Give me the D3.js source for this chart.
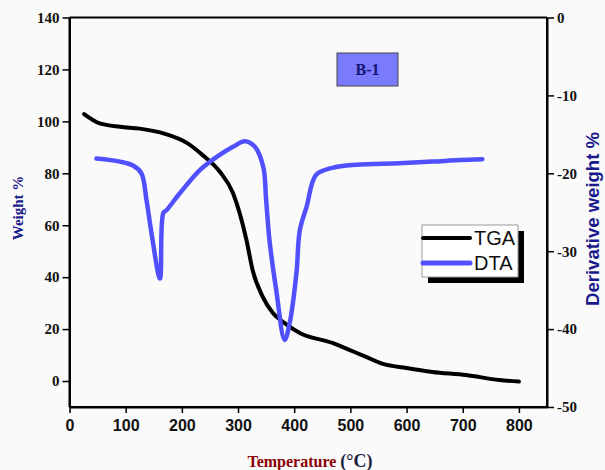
<!DOCTYPE html>
<html><head><meta charset="utf-8">
<script src="https://cdn.jsdelivr.net/npm/d3@7"></script>
<style>html,body{margin:0;padding:0;background:#fafafa;}svg{display:block;}</style>
</head><body>
<script>
// ---- data ----
const tgaTemp   = [26, 54, 90, 125, 170, 209, 237, 268, 291, 315, 326, 344, 362, 383, 410, 469, 498, 528, 555, 600, 646, 706, 765, 800];
const tgaWeight = [102.8, 99.2, 97.9, 97.2, 95.2, 91.7, 87, 80.5, 72.4, 54.3, 42.7, 32.4, 26.2, 22.3, 18.5, 14.6, 12, 9.3, 6.8, 5, 3.5, 2.3, 0.4, -0.2];
const dtaTemp   = [48, 90, 113, 128, 137, 146, 161, 167, 173, 196, 232, 262, 291, 312, 330, 345, 350, 356, 368, 383, 392, 404, 410, 422, 439, 468, 510, 587, 646, 694, 735];
const dtaValue  = [-18.1, -18.5, -19.0, -20, -23.4, -27.7, -33.5, -25.1, -24.7, -22.6, -19.6, -17.9, -16.6, -15.9, -16.6, -19.2, -23.4, -28.6, -35, -41.4, -39.2, -32.8, -27.3, -24.3, -20.2, -19.3, -18.9, -18.7, -18.5, -18.3, -18.2];
const xTicks = [0, 100, 200, 300, 400, 500, 600, 700, 800];
const leftTicks = [0, 20, 40, 60, 80, 100, 120, 140];
const rightTicks = [0, -10, -20, -30, -40, -50];
const seriesNames = ["TGA", "DTA"];

const W = 605, H = 470;
const L = 69.5, R = 547, T = 17.5, B = 407;
const svg = d3.select("body").append("svg").attr("width", W).attr("height", H);
svg.append("rect").attr("width", W).attr("height", H).attr("fill", "#fafafa");

const x = d3.scaleLinear().domain([0, 850]).range([L, R]);
const yL = d3.scaleLinear().domain([-10, 140]).range([B, T]);
const yR = d3.scaleLinear().domain([-50, 0]).range([B, T]);

svg.append("line").attr("x1", L).attr("x2", R).attr("y1", T).attr("y2", T).attr("stroke", "#000").attr("stroke-width", 2);

const fmt = d => String(d);
const ax = svg.append("g").attr("transform", `translate(0,${B})`)
  .call(d3.axisBottom(x).tickValues(xTicks).tickFormat(fmt).tickSize(6).tickSizeOuter(0));
ax.selectAll("text").attr("font-family", "Arial, 'Liberation Sans', sans-serif").attr("font-weight", "bold").attr("font-size", 16).attr("fill", "#111").attr("dy", "0.95em");
const al = svg.append("g").attr("transform", `translate(${L},0)`)
  .call(d3.axisLeft(yL).tickValues(leftTicks).tickFormat(fmt).tickSize(7).tickSizeOuter(0));
al.selectAll("text").attr("font-family", "'Times New Roman','Liberation Serif',serif").attr("font-weight", "bold").attr("font-size", 15).attr("fill", "#111");
const ar = svg.append("g").attr("transform", `translate(${R},0)`)
  .call(d3.axisRight(yR).tickValues(rightTicks).tickFormat(fmt).tickSize(7).tickSizeOuter(0));
ar.selectAll("text").attr("font-family", "'Times New Roman','Liberation Serif',serif").attr("font-weight", "bold").attr("font-size", 15).attr("fill", "#111").attr("x", 10);
[ax, al, ar].forEach(g => {
  g.select(".domain").attr("stroke", "#000").attr("stroke-width", 2);
  g.selectAll(".tick line").attr("stroke", "#000").attr("stroke-width", 1.5);
});
svg.append("line").attr("x1", L).attr("x2", R).attr("y1", B).attr("y2", B).attr("stroke", "#000").attr("stroke-width", 2);
svg.append("line").attr("x1", L).attr("x2", L).attr("y1", T).attr("y2", B).attr("stroke", "#000").attr("stroke-width", 2);
svg.append("line").attr("x1", R).attr("x2", R).attr("y1", T).attr("y2", B).attr("stroke", "#000").attr("stroke-width", 2);

const tga = tgaTemp.map((t, i) => [t, tgaWeight[i]]);
const dta = dtaTemp.map((t, i) => [t, dtaValue[i]]);
svg.append("path").datum(tga)
  .attr("d", d3.line().x(d => x(d[0])).y(d => yL(d[1])).curve(d3.curveMonotoneX))
  .attr("fill", "none").attr("stroke", "#000").attr("stroke-width", 4).attr("stroke-linecap", "round");
svg.append("path").datum(dta)
  .attr("d", d3.line().x(d => x(d[0])).y(d => yR(d[1])).curve(d3.curveCatmullRom))
  .attr("fill", "none").attr("stroke", "#5050ff").attr("stroke-width", 4.5).attr("stroke-linecap", "round").attr("stroke-linejoin", "round");

svg.append("rect").attr("x", 337).attr("y", 53).attr("width", 61).attr("height", 33)
  .attr("fill", "#7a7aff").attr("stroke", "#444").attr("stroke-width", 1);
svg.append("text").attr("x", 367.5).attr("y", 75).attr("text-anchor", "middle")
  .attr("font-family", "'Times New Roman','Liberation Serif',serif").attr("font-weight", "bold").attr("font-size", 16).attr("fill", "#14146e").text("B-1");

const lg = svg.append("g");
lg.append("rect").attr("x", 428).attr("y", 231).attr("width", 96).attr("height", 52).attr("fill", "#000");
lg.append("rect").attr("x", 422).attr("y", 225).attr("width", 96).attr("height", 52).attr("fill", "#fff").attr("stroke", "#999").attr("stroke-width", 1);
const legColors = ["#000", "#5050ff"];
seriesNames.forEach((n, i) => {
  const yy = 238 + i * 25;
  lg.append("line").attr("x1", 423).attr("x2", 470).attr("y1", yy).attr("y2", yy).attr("stroke", legColors[i]).attr("stroke-width", i ? 5 : 4).attr("stroke-linecap", "round");
  lg.append("text").attr("x", 474).attr("y", yy + 7).attr("font-family", "Arial, 'Liberation Sans', sans-serif").attr("font-size", 20).attr("fill", "#111").text(n);
});

svg.append("text").attr("transform", "translate(23,208) rotate(-90)").attr("text-anchor", "middle")
  .attr("font-family", "'Times New Roman','Liberation Serif',serif").attr("font-weight", "bold").attr("font-size", 15).attr("fill", "#1a1a8c").text("Weight %");
svg.append("text").attr("transform", "translate(599,219) rotate(-90)").attr("text-anchor", "middle")
  .attr("font-family", "Arial, 'Liberation Sans', sans-serif").attr("font-weight", "bold").attr("font-size", 18.5).attr("fill", "#1a1a8c").text("Derivative weight %");
const xt = svg.append("text").attr("x", 310).attr("y", 467).attr("text-anchor", "middle")
  .attr("font-family", "'Times New Roman','Liberation Serif',serif").attr("font-weight", "bold").attr("font-size", 16).attr("fill", "#8b0000");
xt.append("tspan").text("Temperature ");
xt.append("tspan").attr("fill", "#1a1a3a").attr("font-size", 18).text("(°C)");
</script>
</body></html>
